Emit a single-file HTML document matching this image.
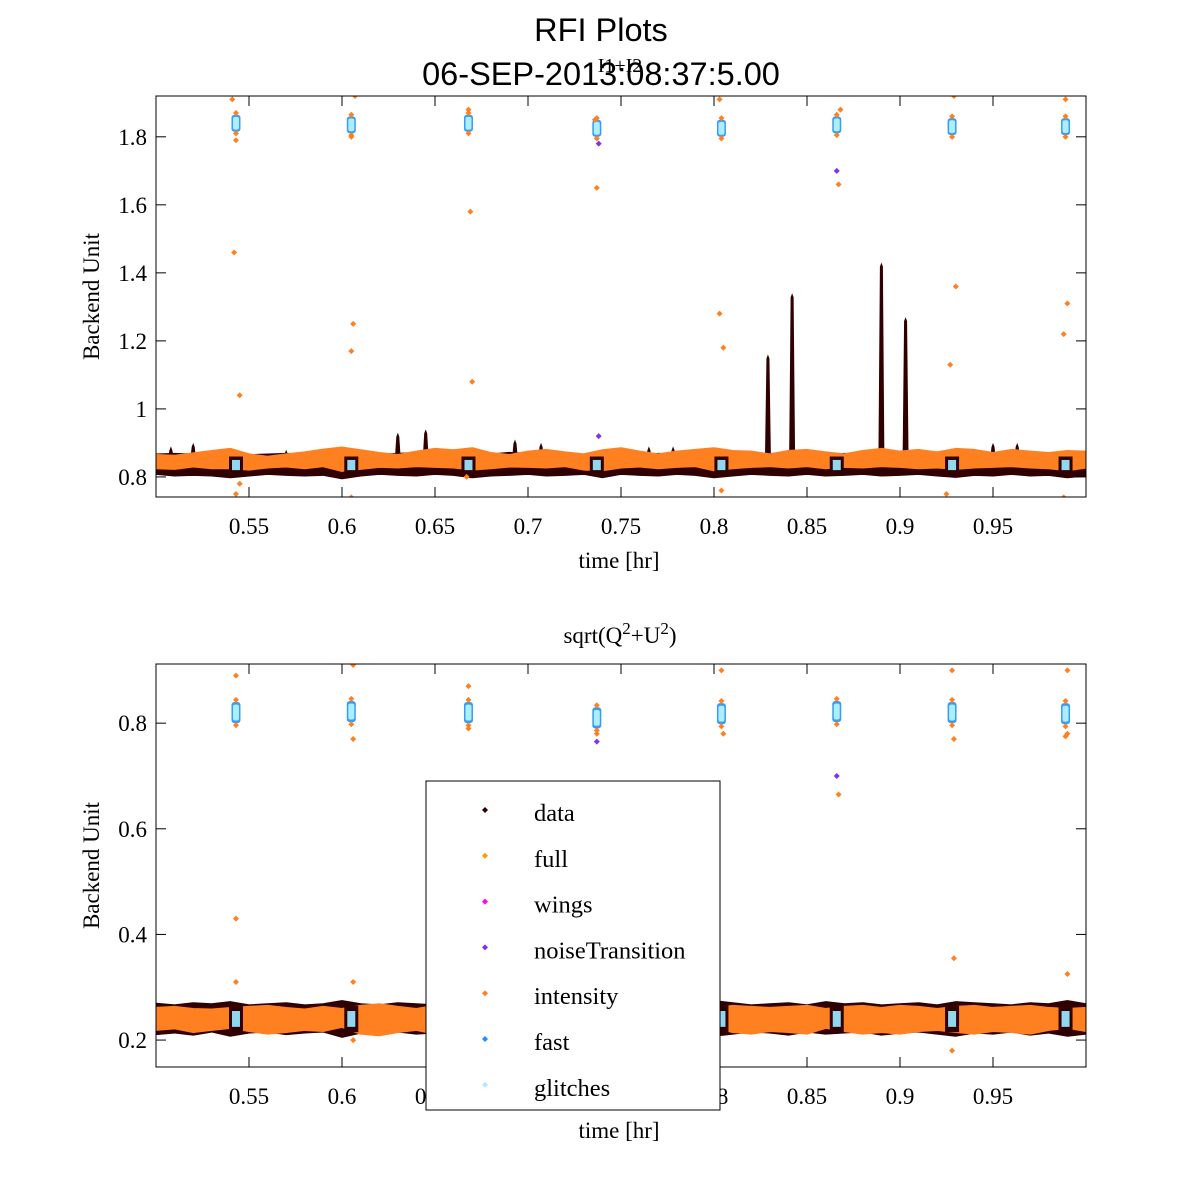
<!DOCTYPE html>
<html><head><meta charset="utf-8"><style>
body{margin:0;background:#fff;width:1200px;height:1200px;overflow:hidden}
svg{display:block}
.t{font-family:"Liberation Serif",serif;font-size:23px;fill:#000}
.s{font-family:"Liberation Sans",sans-serif;font-size:32.5px;fill:#000}
.lt{font-family:"Liberation Serif",serif;font-size:24.5px;fill:#000}
</style></head><body>
<svg id="chart" width="1200" height="1200" xmlns="http://www.w3.org/2000/svg">
<text class="s" x="601" y="41" text-anchor="middle">RFI Plots</text>
<text class="s" x="601" y="85" text-anchor="middle">06-SEP-2013:08:37:5.00</text>
<text class="t" x="620" y="72" text-anchor="middle" style="font-size:20px">I1+I2</text>
<text class="t" x="620" y="643" text-anchor="middle">sqrt(Q<tspan dy="-9" font-size="17">2</tspan><tspan dy="9">+U</tspan><tspan dy="-9" font-size="17">2</tspan><tspan dy="9">)</tspan></text>
<g id="p1"></g>
<g id="p2"></g>
<g id="legend"></g>
</svg>
<script>
const NS="http://www.w3.org/2000/svg";
// shared
const xTicks=[0.55,0.6,0.65,0.7,0.75,0.8,0.85,0.9,0.95];
const xTickLabels=["0.55","0.6","0.65","0.7","0.75","0.8","0.85","0.9","0.95"];
const calTimes=[0.543,0.605,0.668,0.737,0.804,0.866,0.928,0.989];
const bandTimes=[0.5,0.51,0.52,0.53,0.54,0.55,0.56,0.57,0.58,0.59,0.6,0.61,0.62,0.63,0.64,0.65,0.66,0.67,0.68,0.69,0.7,0.71,0.72,0.73,0.74,0.75,0.76,0.77,0.78,0.79,0.8,0.81,0.82,0.83,0.84,0.85,0.86,0.87,0.88,0.89,0.9,0.91,0.92,0.93,0.94,0.95,0.96,0.97,0.98,0.99,1.0];
// top panel data
const topYTicks=[0.8,1,1.2,1.4,1.6,1.8];
const topYTickLabels=["0.8","1","1.2","1.4","1.6","1.8"];
const topDataLo=[0.815,0.81,0.812,0.81,0.805,0.81,0.815,0.812,0.81,0.812,0.802,0.81,0.815,0.812,0.81,0.815,0.812,0.805,0.81,0.812,0.815,0.81,0.812,0.815,0.805,0.815,0.812,0.81,0.815,0.812,0.805,0.81,0.815,0.812,0.81,0.815,0.81,0.812,0.815,0.81,0.812,0.815,0.81,0.806,0.812,0.81,0.815,0.81,0.812,0.805,0.81];
const topDataHi=[0.86,0.862,0.86,0.865,0.862,0.858,0.86,0.862,0.86,0.865,0.862,0.858,0.86,0.862,0.865,0.86,0.862,0.858,0.86,0.865,0.862,0.86,0.858,0.86,0.862,0.86,0.858,0.862,0.86,0.865,0.862,0.86,0.858,0.862,0.86,0.86,0.858,0.862,0.86,0.865,0.86,0.858,0.862,0.86,0.858,0.862,0.86,0.858,0.862,0.86,0.858];
const topIntLo=[0.83,0.828,0.835,0.83,0.83,0.826,0.832,0.835,0.83,0.836,0.822,0.828,0.834,0.832,0.836,0.834,0.832,0.826,0.83,0.835,0.834,0.832,0.836,0.826,0.824,0.832,0.835,0.83,0.834,0.836,0.824,0.83,0.834,0.836,0.832,0.836,0.83,0.834,0.832,0.836,0.834,0.83,0.832,0.828,0.832,0.834,0.836,0.832,0.83,0.824,0.832];
const topIntHi=[0.86,0.858,0.865,0.872,0.878,0.862,0.855,0.862,0.868,0.876,0.882,0.874,0.866,0.86,0.87,0.878,0.874,0.88,0.866,0.86,0.87,0.875,0.868,0.862,0.874,0.88,0.87,0.862,0.87,0.875,0.88,0.872,0.87,0.862,0.872,0.875,0.868,0.862,0.872,0.878,0.87,0.875,0.868,0.878,0.875,0.866,0.875,0.87,0.866,0.872,0.87];
const topSpikeT=[0.508,0.52,0.57,0.585,0.63,0.645,0.693,0.707,0.765,0.778,0.829,0.842,0.89,0.903,0.95,0.963];
const topSpikeV=[0.89,0.9,0.88,0.88,0.93,0.94,0.91,0.9,0.89,0.89,1.16,1.34,1.43,1.27,0.9,0.9];
const topCalV=[1.84,1.835,1.84,1.825,1.825,1.835,1.83,1.83];
const topOutT=[0.542,0.545,0.541,0.543,0.606,0.605,0.607,0.669,0.67,0.668,0.737,0.736,0.803,0.805,0.803,0.867,0.868,0.93,0.927,0.929,0.99,0.988,0.989,0.543,0.605,0.804,0.545,0.605,0.667,0.925,0.988];
const topOutV=[1.46,1.04,1.91,1.79,1.25,1.17,1.92,1.58,1.08,1.88,1.65,1.85,1.28,1.18,1.91,1.66,1.88,1.36,1.13,1.92,1.31,1.22,1.91,0.75,0.74,0.76,0.78,1.8,0.8,0.75,0.74];
const topPurT=[0.866,0.738,0.738];
const topPurV=[1.70,1.78,0.92];
// bottom panel data
const botYTicks=[0.2,0.4,0.6,0.8];
const botYTickLabels=["0.2","0.4","0.6","0.8"];
const botDataLo=[0.215,0.218,0.214,0.22,0.212,0.218,0.22,0.215,0.218,0.22,0.21,0.218,0.215,0.22,0.216,0.218,0.22,0.214,0.218,0.22,0.216,0.218,0.22,0.215,0.21,0.218,0.22,0.216,0.22,0.218,0.212,0.216,0.22,0.218,0.214,0.22,0.216,0.218,0.22,0.214,0.218,0.22,0.216,0.212,0.218,0.216,0.22,0.214,0.218,0.212,0.216];
const botDataHi=[0.265,0.262,0.266,0.264,0.268,0.262,0.264,0.266,0.262,0.264,0.27,0.264,0.262,0.266,0.264,0.262,0.266,0.268,0.262,0.264,0.266,0.262,0.264,0.266,0.268,0.262,0.264,0.266,0.262,0.264,0.27,0.266,0.262,0.264,0.266,0.262,0.268,0.264,0.266,0.262,0.264,0.266,0.262,0.268,0.266,0.264,0.262,0.266,0.264,0.27,0.264];
const botIntLo=[0.222,0.225,0.218,0.222,0.226,0.22,0.215,0.218,0.222,0.22,0.228,0.215,0.212,0.218,0.222,0.215,0.212,0.222,0.218,0.215,0.212,0.22,0.222,0.215,0.226,0.218,0.215,0.222,0.218,0.215,0.228,0.218,0.215,0.22,0.218,0.215,0.226,0.22,0.215,0.218,0.215,0.22,0.222,0.218,0.215,0.22,0.218,0.215,0.222,0.226,0.22];
const botIntHi=[0.258,0.26,0.256,0.255,0.258,0.26,0.262,0.258,0.255,0.26,0.256,0.262,0.265,0.26,0.256,0.262,0.265,0.258,0.26,0.262,0.265,0.258,0.256,0.262,0.258,0.26,0.262,0.258,0.26,0.262,0.256,0.262,0.26,0.258,0.26,0.262,0.256,0.26,0.262,0.258,0.262,0.26,0.256,0.26,0.262,0.258,0.26,0.262,0.258,0.256,0.258];
const botCalV=[0.82,0.822,0.82,0.81,0.818,0.822,0.82,0.818];
const botOutT=[0.543,0.543,0.606,0.867,0.929,0.99,0.928,0.543,0.606,0.668,0.804,0.928,0.99,0.606,0.805,0.929,0.989,0.606,0.668,0.737,0.99];
const botOutV=[0.43,0.31,0.31,0.665,0.355,0.325,0.18,0.89,0.91,0.87,0.9,0.9,0.9,0.77,0.78,0.77,0.775,0.2,0.79,0.78,0.78];
const botPurT=[0.866,0.737];
const botPurV=[0.70,0.765];
// legend
const legendNames=["data","full","wings","noiseTransition","intensity","fast","glitches"];
const legendColors=["#300000","#ff9900","#ff00ff","#7f30ff","#ff8020","#1e90ff","#aaeeff"];

const svg=document.getElementById('chart');
function mk(tag,attrs,parent){const e=document.createElementNS(NS,tag);for(const k in attrs)e.setAttribute(k,attrs[k]);parent.appendChild(e);return e;}
function diamond(g,x,y,r,c){return mk('path',{d:`M${x} ${y-r}L${x+r} ${y}L${x} ${y+r}L${x-r} ${y}Z`,fill:c},g);}

function panel(gid,box,ymin,ymax,yTicks,yTickLabels,d){
  const g=document.getElementById(gid);
  const X=v=>box.l+(v-0.5)/0.5*(box.r-box.l);
  const Y=v=>box.b-(v-ymin)/(ymax-ymin)*(box.b-box.t);
  const clip=mk('clipPath',{id:gid+'c'},g);mk('rect',{x:box.l,y:box.t,width:box.r-box.l,height:box.b-box.t},clip);
  const pg=mk('g',{'clip-path':`url(#${gid}c)`},g);
  function band(lo,hi,c,name,sw){
    let p='';bandTimes.forEach((t,i)=>p+=(i?'L':'M')+X(t)+' '+Y(hi[i]));
    for(let i=bandTimes.length-1;i>=0;i--)p+='L'+X(bandTimes[i])+' '+Y(lo[i]);
    const e=mk('path',{d:p+'Z',fill:c,stroke:c,'stroke-width':sw,'stroke-linejoin':'round'},pg);
    
    
  }
  band(d.dLo,d.dHi,'#300000','data-band',6);
  d.spT.forEach((t,i)=>{
    const sg=mk('g',{},pg);
    
    
    const y0=Y(0.85),y1=Y(d.spV[i]);
    mk('path',{d:`M${X(t)-3} ${y0}L${X(t)-1.5} ${y1+4}L${X(t)} ${y1}L${X(t)+1.5} ${y1+4}L${X(t)+3} ${y0}Z`,fill:'#300000'},sg);
  });
  band(d.iLo,d.iHi,'#ff8020','intensity-band',5);
  calTimes.forEach((t,i)=>{
    const cg=mk('g',{},pg);
    
    
    const v=d.cal[i],h=d.calH;
    mk('rect',{x:X(t)-4.5,y:Y(v+h),width:9,height:Y(v-h)-Y(v+h),fill:'#3a9cf0',rx:3},cg);
    mk('rect',{x:X(t)-3,y:Y(v+h*0.75),width:6,height:Y(v-h*0.75)-Y(v+h*0.75),fill:'#aaeeff',rx:2},cg);
    diamond(cg,X(t),Y(v+h*1.2),3,'#ff8020');diamond(cg,X(t),Y(v-h*1.2),3,'#ff8020');
    mk('rect',{x:X(t)-7,y:Y(d.bandMid+d.bandH),width:14,height:Y(d.bandMid-d.bandH)-Y(d.bandMid+d.bandH),fill:'#300000'},cg);
    mk('rect',{x:X(t)-4,y:Y(d.bandMid+d.bandH*0.6),width:8,height:Y(d.bandMid-d.bandH*0.6)-Y(d.bandMid+d.bandH*0.6),fill:'#8fd8f0'},cg);
  });
  d.oT.forEach((t,i)=>{const e=diamond(pg,X(t),Y(d.oV[i]),3,'#ff8020');
    
    });
  d.pT.forEach((t,i)=>{const e=diamond(pg,X(t),Y(d.pV[i]),3,'#7f30ff');
    
    });
  mk('rect',{x:box.l,y:box.t,width:box.r-box.l,height:box.b-box.t,fill:'none',stroke:'#000','stroke-width':1},g);
  xTicks.forEach((t,i)=>{const x=X(t);
    mk('line',{x1:x,x2:x,y1:box.b,y2:box.b-10,stroke:'#000'},g);
    mk('line',{x1:x,x2:x,y1:box.t,y2:box.t+10,stroke:'#000'},g);
    const e=mk('text',{x:x,y:box.b+37,'text-anchor':'middle',class:'t'},g);e.textContent=xTickLabels[i];
    
    });
  yTicks.forEach((v,i)=>{const y=Y(v);
    mk('line',{x1:box.l,x2:box.l+10,y1:y,y2:y,stroke:'#000'},g);
    mk('line',{x1:box.r,x2:box.r-10,y1:y,y2:y,stroke:'#000'},g);
    const e=mk('text',{x:box.l-9,y:y+8,'text-anchor':'end',class:'t'},g);e.textContent=yTickLabels[i];
    
    });
  const xt=mk('text',{x:(box.l+box.r)/2-2,y:box.b+71,'text-anchor':'middle',class:'t'},g);xt.textContent='time [hr]';
  
  
  const yt=mk('text',{x:0,y:0,'text-anchor':'middle',class:'t',transform:`translate(99 ${(box.t+box.b)/2}) rotate(-90)`},g);yt.textContent='Backend Unit';
  
  
}
panel('p1',{l:156,r:1086,t:96,b:497},0.741,1.92,topYTicks,topYTickLabels,
 {dLo:topDataLo,dHi:topDataHi,iLo:topIntLo,iHi:topIntHi,spT:topSpikeT,spV:topSpikeV,cal:topCalV,calH:0.025,bandMid:0.835,bandH:0.025,oT:topOutT,oV:topOutV,pT:topPurT,pV:topPurV});
panel('p2',{l:156,r:1086,t:664,b:1067},0.149,0.912,botYTicks,botYTickLabels,
 {dLo:botDataLo,dHi:botDataHi,iLo:botIntLo,iHi:botIntHi,spT:[],spV:[],cal:botCalV,calH:0.02,bandMid:0.24,bandH:0.025,oT:botOutT,oV:botOutV,pT:botPurT,pV:botPurV});
// legend
const lg=document.getElementById('legend');
mk('rect',{x:426,y:781,width:294,height:329,fill:'#fff',stroke:'#000'},lg);
legendNames.forEach((n,i)=>{
  const y=813+i*45.8;
  const eg=mk('g',{},lg);
  
  
  diamond(eg,485,y-3,3,legendColors[i]);
  const t=mk('text',{x:534,y:y+8,class:'lt'},eg);t.textContent=n;
});
</script>
</body></html>
